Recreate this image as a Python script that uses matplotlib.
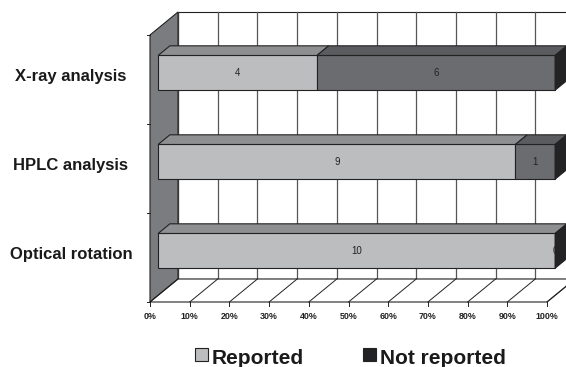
import matplotlib.pyplot as plt
from matplotlib.patches import Polygon, Rectangle

plt.rcParams['font.family'] = ['Liberation Sans', 'DejaVu Sans']

# data
categories = ["Optical rotation", "HPLC analysis", "X-ray analysis"]
reported = [10, 9, 4]
not_reported = [0, 1, 6]
tick_values = list(range(0, 101, 10))
tick_labels = [f"{t}%" for t in tick_values]

# colours
c_rep_front = "#bcbdbf"
c_rep_top = "#8e8f91"
c_not_front = "#6b6c6f"
c_not_top = "#5b5c5f"
c_side = "#232325"
c_wall = "#7b7c7f"
c_edge = "#222222"

W, H = 566, 367
fig = plt.figure(figsize=(W / 100, H / 100), dpi=100)
# front plane of the box: x 150..547 px, y 35..302 px
ax = fig.add_axes([150 / W, (H - 302) / H, 397 / W, 267 / H])
ax.set_xlim(0, 100)
ax.set_ylim(0, 3)
ax.axis("off")

# depth (28 px right, 23 px up) in data units
ddx = 28 / (397 / 100)
ddy = 23 / (267 / 3)


def p(x, y, d):
    return (x + d * ddx, y + d * ddy)


def poly(pts, fc, z, ec=c_edge, lw=0.8):
    ax.add_patch(Polygon(pts, closed=True, facecolor=fc, edgecolor=ec,
                         linewidth=lw, zorder=z, clip_on=False))


# back wall + grid
poly([p(0, 0, 1), p(100, 0, 1), p(100, 3, 1), p(0, 3, 1)], "white", 1)
for t in tick_values:
    ax.plot(*zip(p(t, 0, 1), p(t, 3, 1)), color="#555555", lw=0.9, zorder=2, clip_on=False)

# left wall
poly([p(0, 0, 0), p(0, 0, 1), p(0, 3, 1), p(0, 3, 0)], c_wall, 3)
# floor
poly([p(0, 0, 0), p(100, 0, 0), p(100, 0, 1), p(0, 0, 1)], "white", 3)
for t, lab in zip(tick_values, tick_labels):
    ax.plot(*zip(p(t, 0, 0), p(t, 0, 1)), color=c_edge, lw=0.7, zorder=4, clip_on=False)
    ax.plot([t, t], [0, -0.045], color=c_edge, lw=0.7, zorder=4, clip_on=False)
    ax.text(t, -0.16, lab, ha="center", va="center", fontsize=6.4,
            fontweight="bold", color="#222222", zorder=4)

# category ticks on the wall front edge
for k in range(4):
    ax.plot([0, -0.76], [k, k], color=c_edge, lw=0.7, zorder=4, clip_on=False)

# bars
d0, d1 = 0.29, 0.71
bh = 0.39
for i, cat in enumerate(categories):
    total = reported[i] + not_reported[i]
    yc = i + 0.5
    y0, y1 = yc - bh / 2, yc + bh / 2
    left = 0
    for val, fc, tc in [(reported[i], c_rep_front, c_rep_top),
                        (not_reported[i], c_not_front, c_not_top)]:
        w = val / total * 100
        if w > 0:
            poly([p(left, y0, d0), p(left + w, y0, d0), p(left + w, y1, d0), p(left, y1, d0)], fc, 5)
            poly([p(left, y1, d0), p(left + w, y1, d0), p(left + w, y1, d1), p(left, y1, d1)], tc, 5)
        cx, cy = p(left + w / 2, yc, d0)
        ax.text(cx, cy, str(val), ha="center", va="center", fontsize=7,
                color="#222222", zorder=6)
        left += w
    # end side of the stack
    poly([p(100, y0, d0), p(100, y0, d1), p(100, y1, d1), p(100, y1, d0)], c_side, 7)

    ax.text(-19.9, yc + 0.03, cat, ha="center", va="center", fontsize=12,
            fontweight="bold", color="#1a1a1a")

# legend
for x0, fc, lab in [(195, c_rep_front, "Reported"), (363, c_side, "Not reported")]:
    fig.add_artist(Rectangle((x0 / W, (H - 361) / H), 13 / W, 13 / H,
                             transform=fig.transFigure, facecolor=fc,
                             edgecolor=c_edge, linewidth=0.8))
    fig.text((x0 + 17) / W, (H - 364.5) / H, lab, ha="left", va="baseline",
             fontsize=15, fontweight="bold", color="#1a1a1a")

fig.savefig("out.png", dpi=100)
